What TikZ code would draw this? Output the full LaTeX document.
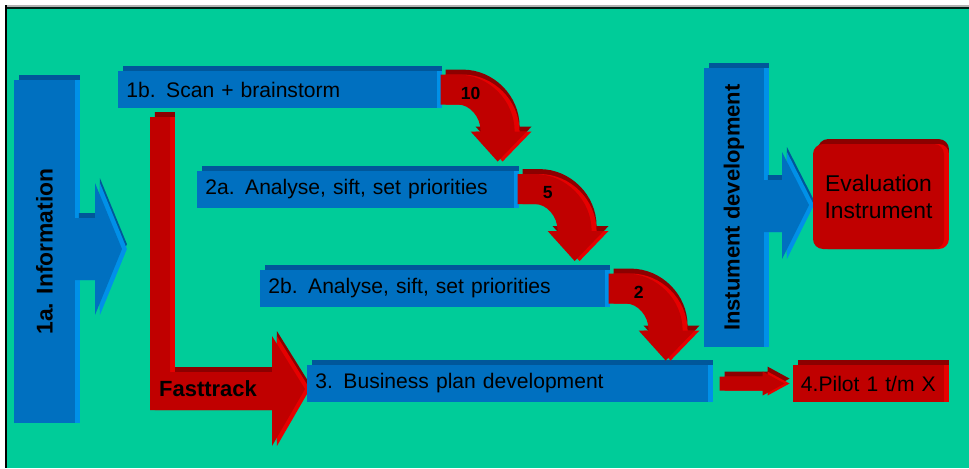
\documentclass[tikz,border=0pt]{standalone}
\usepackage{fontspec}
\setmainfont{Liberation Sans}
\usetikzlibrary{positioning,calc,shadows}
\definecolor{bggreen}{HTML}{00CC99}
\definecolor{boxblue}{HTML}{0070C0}
\definecolor{blueside}{HTML}{0090E8}
\definecolor{bluetop}{HTML}{00579A}
\definecolor{boxred}{HTML}{C00000}
\definecolor{redside}{HTML}{E60000}
\definecolor{redtop}{HTML}{8C0000}
\tikzset{
  solid3d/.style n args={3}{fill=#1,
    general shadow={fill=#3, shadow xshift=2.8pt, shadow yshift=2.8pt},
    general shadow={fill=#2, shadow xshift=2.8pt}},
  blue3d/.style={solid3d={boxblue}{blueside}{bluetop}},
  red3d/.style={solid3d={boxred}{redside}{redtop}},
  bar/.style={minimum height=0.74cm, inner xsep=0.16cm, inner ysep=0pt,
    align=left, anchor=west, font=\fontsize{12}{14}\selectfont},
  vbar/.style={blue3d, rotate=90, inner sep=0pt, font=\bfseries\fontsize{13}{15}\selectfont}
}
% red bend arrow from the east end of a bar down to the next one
\newcommand\bendarrow[2]{
  \begin{scope}[shift={(#1.east)}]
    \fill[red3d] (3,-15) -- (20,-15) .. controls (51,-15) and (77,11) .. (77,42)
      -- (89,42) -- (60,72) -- (33,42) -- (43,42)
      .. controls (43,27) and (32,15) .. (20,15) -- (3,15) -- cycle;
    \node[font=\bfseries\fontsize{10}{12}\selectfont] (n#1) at (33,4) {#2};
  \end{scope}
}

\begin{document}
\begin{tikzpicture}[x=0.02cm, y=-0.02cm]
  \useasboundingbox (0,0) rectangle (969,468);
  % frame
  \fill[white] (0,0) rectangle (969,468);
  \fill[bggreen] (5,7) rectangle (969,468);
  \fill[gray!60] (5,5) rectangle (969,7);
  \fill[black!85!bggreen] (7,7) rectangle (969,9);
  \fill[black] (5,5) rectangle (7,468);

  \node[vbar, minimum width=6.86cm, minimum height=1.22cm] (info) at (44.5,251.5) {1a. Information};
  \fill[blue3d] (74,218) -- (95,218) -- (95,183) -- (122,249) -- (95,315) -- (95,280) -- (74,280) -- cycle;

  \fill[red3d] (150,117) -- (170,117) -- (170,372) -- (272,372) -- (272,336) -- (305,389)
    -- (272,446) -- (272,410) -- (150,410) -- cycle;
  \node[font=\bfseries\fontsize{12.5}{14}\selectfont] (fast) at (208,389) {Fasttrack};

  \node[bar, blue3d, text width=6.06cm] (b1) at (118,89.5) {1b. Scan + brainstorm};
  \node[bar, blue3d, text width=6.02cm] (a2) at (197,189) {2a. Analyse, sift, set priorities};
  \node[bar, blue3d, text width=6.58cm] (b2) at (260,288.5) {2b. Analyse, sift, set priorities};
  \node[bar, blue3d, text width=7.7cm] (bp3) at (307,383.5) {3. Business plan development};
  \node[bar, red3d, text width=2.7cm, right=1.68cm of bp3] (p4) {4.Pilot 1 t/m X};

  \begin{scope}[shift={(bp3.east)}]
    \fill[red3d] (11,-7) -- (54,-7) -- (54,-12) -- (76,0) -- (54,12) -- (54,7) -- (11,7) -- cycle;
  \end{scope}

  \node[vbar, font=\bfseries\fontsize{12.5}{14}\selectfont, minimum width=5.58cm, minimum height=1.2cm] (instr) at (734,207.5) {Instument development};
  \fill[blue3d] (763,180) -- (782,180) -- (782,152) -- (809,205) -- (782,259) -- (782,232) -- (763,232) -- cycle;
  \node[red3d, rounded corners=0.2cm, minimum width=2.62cm, minimum height=2.1cm, align=center,
    font=\fontsize{13}{15.5}\selectfont] (eval) at (878.5,196.5) {Evaluation\\Instrument};

  \bendarrow{b1}{10}
  \bendarrow{a2}{5}
  \bendarrow{b2}{2}
\end{tikzpicture}
\end{document}
